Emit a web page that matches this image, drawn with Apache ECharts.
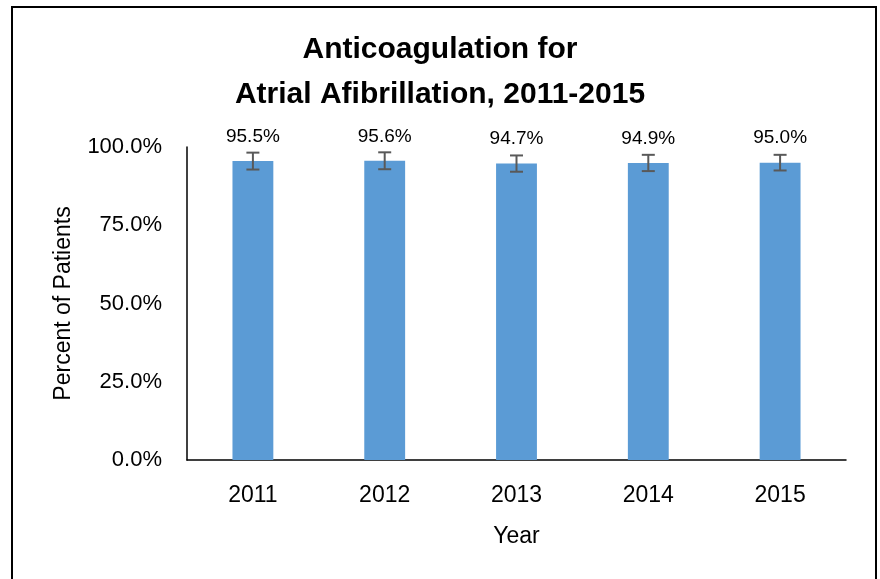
<!DOCTYPE html>
<html>
<head>
<meta charset="utf-8">
<script src="https://cdn.jsdelivr.net/npm/echarts@6/dist/echarts.min.js"></script>
<style>
  html, body { margin: 0; padding: 0; background: #fff; }
  #chart { width: 880px; height: 579px; }
</style>
</head>
<body>
<div id="chart"></div>
<script>
// data
var years = ['2011', '2012', '2013', '2014', '2015'];
var percents = [95.5, 95.6, 94.7, 94.9, 95.0];
var errors = [2.7, 2.7, 2.6, 2.6, 2.5];
var yTicks = [0, 25, 50, 75, 100];

var FONT = '"Liberation Sans", Arial, sans-serif';

var chart = echarts.init(document.getElementById('chart'));

chart.setOption({
  animation: false,
  title: {
    text: 'Anticoagulation for\nAtrial Afibrillation, 2011-2015',
    left: 'center',
    top: 27,
    padding: [0, 0, 0, 8],
    textStyle: {
      fontFamily: FONT,
      fontSize: 30,
      fontWeight: 'bold',
      color: '#000',
      lineHeight: 45
    }
  },
  grid: {
    left: 187,
    right: 34,
    top: 147,
    bottom: 119
  },
  xAxis: {
    type: 'category',
    data: years,
    name: 'Year',
    nameLocation: 'middle',
    nameGap: 65,
    nameMoveOverlap: false,
    nameTextStyle: { fontFamily: FONT, fontSize: 23, color: '#000' },
    axisLine: { lineStyle: { color: '#000', width: 1.5 } },
    axisTick: { show: false },
    axisLabel: { fontFamily: FONT, fontSize: 23, color: '#000', margin: 24 }
  },
  yAxis: {
    type: 'value',
    min: 0,
    max: 100,
    interval: 25,
    name: 'Percent of Patients',
    nameLocation: 'middle',
    nameGap: 112,
    nameMoveOverlap: false,
    nameTextStyle: { fontFamily: FONT, fontSize: 23, color: '#000' },
    axisLine: { show: true, lineStyle: { color: '#000', width: 1.5 } },
    axisTick: { show: false },
    splitLine: { show: false },
    axisLabel: {
      fontFamily: FONT,
      fontSize: 22,
      color: '#000',
      margin: 25,
      formatter: function (v) {
        return yTicks.indexOf(v) >= 0 ? v.toFixed(1) + '%' : '';
      }
    }
  },
  series: [
    {
      type: 'bar',
      data: percents,
      barWidth: '31%',
      itemStyle: { color: '#5B9BD5' },
      label: {
        show: true,
        position: 'top',
        distance: 15,
        fontFamily: FONT,
        fontSize: 19,
        color: '#000',
        formatter: function (p) { return p.value.toFixed(1) + '%'; }
      },
      z: 2
    },
    {
      // error bars
      type: 'custom',
      data: percents.map(function (v, i) { return [i, v - errors[i], v + errors[i]]; }),
      renderItem: function (params, api) {
        var lo = api.coord([api.value(0), api.value(1)]);
        var hi = api.coord([api.value(0), api.value(2)]);
        var cap = 6.5;
        var st = { stroke: '#595959', lineWidth: 2 };
        return {
          type: 'group',
          children: [
            { type: 'line', shape: { x1: hi[0], y1: hi[1], x2: lo[0], y2: lo[1] }, style: st },
            { type: 'line', shape: { x1: hi[0] - cap, y1: hi[1], x2: hi[0] + cap, y2: hi[1] }, style: st },
            { type: 'line', shape: { x1: lo[0] - cap, y1: lo[1], x2: lo[0] + cap, y2: lo[1] }, style: st }
          ]
        };
      },
      encode: { x: 0, y: [1, 2] },
      z: 3
    }
  ],
  graphic: [
    {
      type: 'rect',
      shape: { x: 12, y: 7, width: 864, height: 590 },
      style: { fill: 'none', stroke: '#000', lineWidth: 2 },
      silent: true
    }
  ]
});

window.addEventListener('resize', function () {
  chart.resize();
});
</script>
</body>
</html>
